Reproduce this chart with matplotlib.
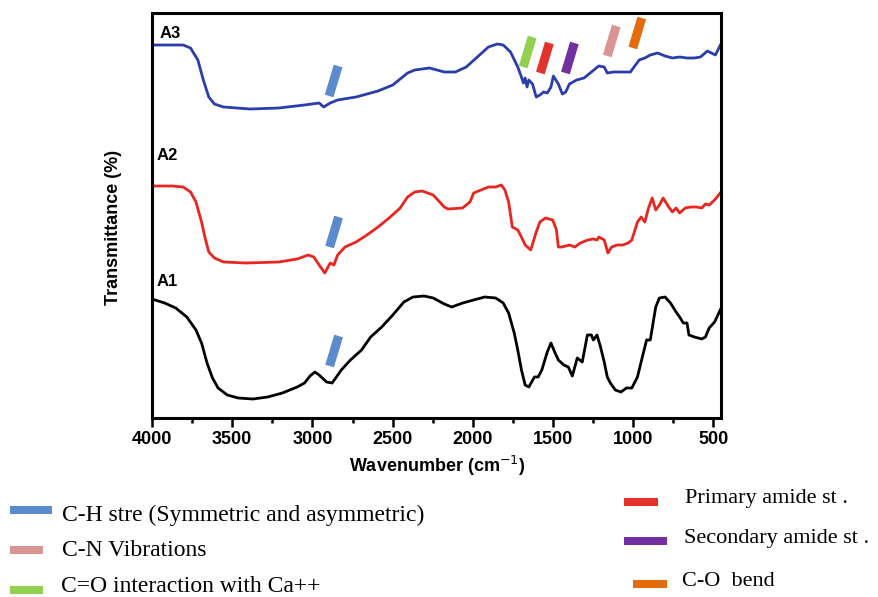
import matplotlib
matplotlib.use("Agg")
import matplotlib.pyplot as plt
from matplotlib.ticker import MultipleLocator, NullFormatter

# FTIR spectra, y is an arbitrary stacked transmittance scale
a3_wn = [4001, 3875, 3806, 3760, 3714, 3680, 3646, 3611, 3554, 3389, 3210, 3049, 2958, 2930, 2889,
         2843, 2728, 2591, 2499, 2407, 2362, 2270, 2178, 2109, 2041, 1972, 1903, 1848, 1811, 1765,
         1720, 1697, 1685, 1674, 1662, 1651, 1628, 1605, 1582, 1559, 1536, 1513, 1498, 1467, 1442,
         1421, 1398, 1353, 1307, 1261, 1215, 1181, 1162, 1123, 1018, 963, 928, 894, 848, 802, 756,
         711, 665, 619, 581, 538, 488, 457]
a3_t = [373, 373, 373, 370, 358, 338, 321, 314, 311, 309, 310, 313, 315, 311, 315,
        318, 321, 327, 333, 345, 348, 350, 346, 346, 351, 361, 371, 374, 373, 366,
        351, 341, 335, 340, 331, 338, 334, 321, 323, 326, 325, 331, 342, 334, 324,
        326, 334, 338, 340, 346, 352, 351, 345, 346, 346, 358, 360, 363, 365, 362, 360,
        361, 360, 360, 361, 367, 363, 373]

a2_wn = [4001, 3875, 3806, 3760, 3726, 3691, 3669, 3646, 3611, 3554, 3416, 3210, 3095, 3026, 2992,
         2958, 2923, 2889, 2866, 2843, 2797, 2728, 2660, 2591, 2522, 2453, 2407, 2362, 2316, 2247,
         2178, 2155, 2064, 2018, 1995, 1949, 1903, 1857, 1823, 1800, 1777, 1754, 1720, 1697, 1674,
         1639, 1605, 1582, 1548, 1502, 1479, 1467, 1444, 1398, 1364, 1330, 1284, 1249, 1226, 1215,
         1181, 1158, 1135, 1100, 1066, 1032, 1009, 974, 951, 928, 905, 882, 860, 837, 814, 779,
         756, 733, 711, 676, 642, 607, 573, 550, 527, 493, 458]
a2_t = [232, 232, 231, 226, 216, 196, 180, 166, 160, 156, 155, 156, 159, 163, 161,
        153, 145, 155, 153, 163, 171, 176, 183, 191, 200, 210, 221, 226, 227, 223,
        211, 209, 210, 216, 225, 228, 231, 231, 233, 228, 216, 191, 188, 181, 173,
        168, 186, 196, 200, 198, 188, 171, 171, 173, 171, 175, 178, 179, 178, 181,
        178, 165, 171, 173, 173, 175, 178, 196, 201, 196, 210, 220, 208, 213, 220, 211,
        206, 210, 205, 210, 211, 211, 210, 214, 213, 218, 225]

a1_wn = [4001, 3921, 3852, 3783, 3726, 3691, 3657, 3623, 3588, 3531, 3462, 3370, 3279, 3187, 3095,
         3049, 3015, 2985, 2958, 2912, 2877, 2855, 2820, 2763, 2694, 2637, 2568, 2499, 2430, 2373,
         2304, 2247, 2178, 2132, 2063, 1995, 1926, 1857, 1811, 1777, 1742, 1720, 1697, 1674, 1651,
         1616, 1593, 1570, 1536, 1513, 1490, 1467, 1433, 1405, 1380, 1349, 1318, 1286, 1261, 1249,
         1226, 1204, 1181, 1162, 1143, 1112, 1077, 1043, 1009, 974, 951, 917, 894, 860, 837, 802,
         768, 733, 711, 688, 665, 653, 619, 573, 550, 527, 493, 458]
a1_t = [119, 115, 110, 101, 88, 75, 55, 40, 30, 23, 20, 19, 21, 25, 31,
        35, 42, 46, 43, 36, 35, 40, 48, 58, 68, 81, 91, 103, 116, 121,
        122, 120, 114, 111, 115, 118, 121, 120, 115, 105, 85, 68, 48, 33, 31,
        41, 41, 48, 66, 75, 66, 58, 53, 51, 42, 60, 56, 83, 83, 78,
        83, 71, 56, 41, 35, 28, 26, 30, 30, 41, 56, 78, 78, 111, 120, 121,
        115, 106, 101, 95, 95, 83, 81, 79, 81, 90, 96, 108]

# band markers (centre wavenumber, height) and the legend
bar_wn = [2868, 2865, 2865, 1658, 1551, 1395, 1134, 975]
bar_t = [337, 186, 67, 366, 360, 360, 377, 385]
bar_keys = ["CH", "CH", "CH", "CO_Ca", "amide1", "amide2", "CN", "CO"]

key_color = {"CH": "#5B8BCC", "CN": "#D99594", "CO_Ca": "#92D050",
             "amide1": "#E3312C", "amide2": "#7030A0", "CO": "#E46C0A"}
left_keys = ["CH", "CN", "CO_Ca"]
left_text = ["C-H stre (Symmetric and asymmetric)", "C-N Vibrations", "C=O interaction with Ca++"]
right_keys = ["amide1", "amide2", "CO"]
right_text = ["Primary amide st .", "Secondary amide st .", "C-O  bend"]

W, H = 879, 597
fig = plt.figure(figsize=(W / 100, H / 100), dpi=100)
ax = fig.add_axes([152 / W, 1 - 418 / H, 569.5 / W, 405 / H])

ax.plot(a3_wn, a3_t, color="#2B3DAA", lw=2, solid_joinstyle="round")
ax.plot(a2_wn, a2_t, color="#E8261F", lw=2, solid_joinstyle="round")
ax.plot(a1_wn, a1_t, color="black", lw=2, solid_joinstyle="round")

ax.set_xlim(4000, 450)
ax.set_ylim(0, 405)

# slanted band markers, ~9 px horizontal lean over 30 px
dwn = 4.5 / (569.5 / 3550)
for wn, t, k in zip(bar_wn, bar_t, bar_keys):
    ax.plot([wn + dwn, wn - dwn], [t - 15, t + 15], color=key_color[k],
            lw=6.5, solid_capstyle="butt")

for name, wn, t in [("A3", 3950, 385), ("A2", 3969, 262), ("A1", 3969, 136)]:
    ax.text(wn, t, name, fontsize=12, fontweight="bold", family="Liberation Sans",
            ha="left", va="center")

for s in ax.spines.values():
    s.set_linewidth(2.2)
ax.set_yticks([])
ax.xaxis.set_major_locator(MultipleLocator(500))
ax.xaxis.set_minor_locator(MultipleLocator(250))
ax.xaxis.set_minor_formatter(NullFormatter())
ax.tick_params(axis="x", which="major", direction="out", length=6.5, width=1.8, pad=3)
ax.tick_params(axis="x", which="minor", direction="out", length=3.5, width=1.8)
for lab in ax.get_xticklabels():
    lab.set_fontsize(13)
    lab.set_fontweight("bold")
    lab.set_family("Liberation Sans")

ax.set_xlabel("Wavenumber (cm$^{-1}$)", fontsize=13, fontweight="bold",
              family="Liberation Sans", labelpad=4)
ax.set_ylabel("Transmittance (%)", fontsize=13, fontweight="bold", family="Liberation Sans")
ax.yaxis.set_label_coords(-0.053, 0.47)

# legend drawn in figure pixels
lx = fig.add_axes([0, 0, 1, 1])
lx.set_xlim(0, W)
lx.set_ylim(H, 0)
lx.axis("off")

left_rows = [(10, 52, 510, 515), (10, 43, 550, 550), (10, 43, 590, 586)]
right_rows = [(624, 658, 502, 498), (624, 667, 541, 538), (633, 667, 584, 582)]
text_x = [(62, 62, 61), (685, 684, 682)]
font_col = [17, 16]
for col, (keys, texts, rows) in enumerate([(left_keys, left_text, left_rows),
                                           (right_keys, right_text, right_rows)]):
    for i, (k, txt, (x0, x1, ys, yt)) in enumerate(zip(keys, texts, rows)):
        lx.plot([x0, x1], [ys, ys], color=key_color[k], lw=5.8, solid_capstyle="butt")
        lx.text(text_x[col][i], yt, txt, fontsize=font_col[col], family="Liberation Serif",
                ha="left", va="center")

plt.savefig("out.png", dpi=100)
